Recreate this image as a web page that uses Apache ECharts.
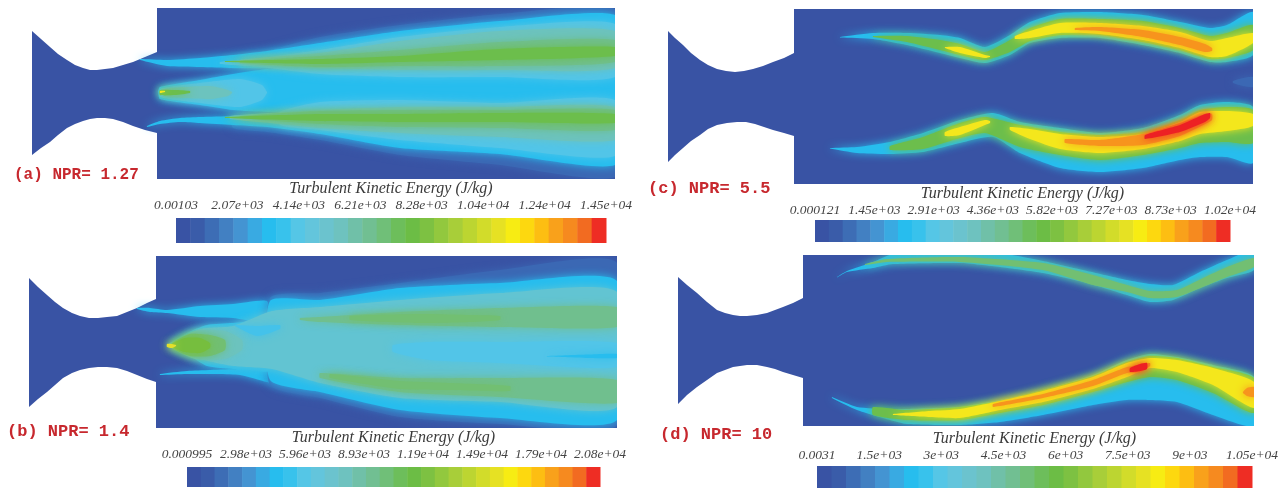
<!DOCTYPE html>
<html><head><meta charset="utf-8">
<style>html,body{margin:0;padding:0;background:#fff}#c{width:1282px;height:490px;filter:blur(0.6px)}</style>
<script src="https://cdn.jsdelivr.net/npm/echarts@6/dist/echarts.min.js"></script>
</head><body><div id="c"></div>
<script>
// colour levels of the contour scale
const BG='#3953A4',MID='#3B68B4',CY='#27BDEE',LI='#52C5E8',BO='#62C4D2',TE='#6CC3BE',PG='#70BF8E',GS='#72BF72',GR='#6CBE4C',LM='#A8CE39',YE='#F4E71C',OR='#F7941D',RE='#ED2024';
const barColors=['#3953A4','#3A5CA9','#3D6DB5','#4280C2','#4494D2','#39AAE2','#27BDEE','#38C2EC','#55C6E6','#63C5DC','#6BC3CE','#6EC2BF','#70C0A8','#71BF92','#70BF78','#6DBE5B','#6CBD45','#7DC142','#92C83E','#A8CE39','#BCD531','#D2DC2A','#E6E123','#F7EC13','#FDD80F','#FDBE12','#F9A11B','#F68A1F','#F26B21','#EE2D24'];
const axisTitle='Turbulent Kinetic Energy (J/kg)';
const ticksA=['0.00103','2.07e+03','4.14e+03','6.21e+03','8.28e+03','1.04e+04','1.24e+04','1.45e+04'];
const ticksB=['0.000995','2.98e+03','5.96e+03','8.93e+03','1.19e+04','1.49e+04','1.79e+04','2.08e+04'];
const ticksC=['0.000121','1.45e+03','2.91e+03','4.36e+03','5.82e+03','7.27e+03','8.73e+03','1.02e+04'];
const ticksD=['0.0031','1.5e+03','3e+03','4.5e+03','6e+03','7.5e+03','9e+03','1.05e+04'];
// nozzle walls [x,y]
const wallTopA=[[32,31],[41,39],[50,47],[58,54],[67,60],[75,65],[83,68],[90,70],[97,70],[105,69],[113,68],[123,65],[133,62],[145,57],[157,52]];
const wallBotA=[[32,155],[41,148],[50,142],[58,135],[67,128],[75,124],[83,121],[90,119],[97,118],[105,118],[113,119],[123,122],[133,126],[145,130],[157,133]];
const wallTopB=[[29,278],[38,287],[47,295],[55,302],[63,308],[72,313],[80,316],[89,318],[98,318],[107,317],[117,316],[127,312],[137,308],[147,303],[156,299]];
const wallBotB=[[29,407],[38,399],[47,392],[55,385],[63,378],[72,373],[80,370],[89,368],[98,367],[107,367],[117,368],[127,371],[137,375],[147,379],[156,382]];
const wallTopC=[[668,31],[675,38],[683,45],[691,53],[700,60],[708,65],[717,69],[726,71],[735,72],[744,71],[753,69],[763,66],[773,62],[784,58],[794,53]];
const wallBotC=[[668,162],[675,155],[683,148],[691,141],[700,135],[708,129],[717,125],[727,123],[737,122],[746,122],[755,124],[764,127],[773,130],[784,133],[794,136]];
const wallTopD=[[678,277],[687,285],[697,293],[707,302],[717,310],[725,313],[733,315],[740,316],[747,316],[757,315],[767,313],[775,310],[783,307],[793,303],[803,298]];
const wallBotD=[[678,404],[687,395],[697,387],[707,380],[717,373],[725,370],[733,367],[740,366],[747,365],[757,365],[767,367],[775,369],[783,372],[793,375],[803,378]];
// contour bands: colour, then rows [x, upper edge y, lower edge y]
const layersA=[
 [MID,[[230,58,68],[270,50,69],[320,37,70],[400,25,70],[500,14,70],[615,9,70]]],
 [MID,[[233,116,128],[267,115,132],[320,113,140],[400,110,155],[500,110,165],[615,110,177]]],
 [CY,[[140,59,60],[167,60,66],[200,58,67],[233,55,68],[267,51,68],[320,43,70],[400,31,70],[500,21,70],[615,15,70]]],
 [CY,[[147,126,127],[160,121,124],[180,118,122],[200,117,123],[233,116,125],[267,114,127],[320,112,134],[400,108,148],[500,108,154],[615,108,165]]],
 [CY,[[158,91,92],[160,87,99],[200,80,105],[233,74,110],[267,69,112],[290,68,112],[615,68,112]]],
 [LI,[[220,62,64],[260,58,67],[320,50,74],[400,37,77],[500,27,77],[615,24,77]]],
 [LI,[[280,112,125],[320,102,130],[400,100,140],[500,103,148],[615,100,156]]],
 [TE,[[240,60,64],[320,53,68],[400,41,70],[500,31,70],[615,31,68]]],
 [TE,[[230,116,119],[270,113,123],[320,110,128],[400,107,133],[500,107,137],[615,107,140]]],
 [PG,[[240,61,63],[320,56,67],[400,50,66],[500,42,66],[615,40,62]]],
 [PG,[[240,116,118],[320,111,124],[400,110,127],[500,110,128],[615,110,130]]],
 [GR,[[225,61,62],[320,59,64],[400,56,62],[500,49,60],[615,47,56]]],
 [GR,[[225,117,118],[320,114,121],[400,114,122],[500,113,122],[615,114,123]]],
 [LI,[[160,89,97],[200,83,103],[240,79,107],[262,85,100],[267,92,93]]],
 [TE,[[165,89,96],[210,86,99],[228,90,96],[232,92,93]]],
 [GR,[[160,90,95],[175,90,95],[190,91,93]]],
 [YE,[[160,91,93],[165,91,92]]]
];
const layersB=[
 [CY,[[137,308,309],[150,308,312],[167,310,313],[200,306,317],[233,304,318],[267,301,322]]],
 [CY,[[160,374,375],[187,371,374],[240,369,375],[267,369,382],[320,369,392]]],
 [MID,[[270,298,385],[320,293,398],[400,283,417],[500,270,424],[617,263,425]]],
 [CY,[[270,301,380],[320,300,392],[400,288,410],[500,283,418],[617,281,420]]],
 [CY,[[167,345,346],[187,333,354],[207,325,366],[233,323,369],[272,322,370]]],
 [BO,[[175,343,348],[200,329,359],[233,326,366],[272,311,369],[320,307,383],[400,300,398],[500,293,402],[617,292,407]]],
 ['#44C2EA',[[235,325,326],[257,326,336],[280,325,329]]],
 [LI,[[393,345,352],[430,342,360],[500,342,363],[617,343,367]]],
 [CY,[[547,356,356.5],[590,354.5,358],[617,354,358]]],
 [PG,[[300,318,320],[320,317,322],[400,312,325],[500,308,327],[617,307,327]]],
 [PG,[[320,373,378],[400,378,392],[500,378,397],[617,380,403]]],
 [GS,[[350,316,320],[420,314,323],[470,315,322],[500,316,320]]],
 [GS,[[330,374,378],[400,381,389],[450,383,390],[510,386,391]]],
 [TE,[[172,343,348],[195,331,359],[225,331,359],[242,340,350]]],
 [GS,[[172,343,348],[190,334,356],[210,335,356],[225,340,350]]],
 ['#76BE3E',[[172,344,347],[185,338,352],[200,338,353],[210,343,348]]],
 ['#E4E02B',[[167,344,347],[172,344,348],[176,345,346]]]
];
const layersC=[
 [MID,[[1233,81,83],[1243,78,86],[1253,77,87]]],
 [CY,[[840,37,37.5],[873,33,39],[907,33,45],[940,35,53],[960,38,58],[985,47,63],[1010,35,55],[1030,22,43],[1060,13,38],[1100,12,38],[1143,15,45],[1180,22,53],[1210,28,62],[1227,25,62],[1253,12,55]]],
 [CY,[[830,148,148.5],[857,147,153],[890,142,154],[923,133,152],[960,120,143],[993,113,137],[1020,122,153],[1060,128,168],[1100,133,172],[1143,128,168],[1180,115,160],[1200,105,157],[1227,102,157],[1253,107,163]]],
 [GR,[[873,36,37],[907,36,42],[940,40,50],[960,44,55],[985,52,60],[1010,40,52],[1030,28,41],[1060,19,35],[1100,19,35],[1143,21,42],[1180,28,50],[1210,36,59],[1227,33,58],[1253,25,50]]],
 [GR,[[890,146,150],[923,137,149],[960,123,138],[985,117,133],[1020,125,147],[1060,132,155],[1100,135,160],[1143,132,155],[1180,120,148],[1200,110,143],[1227,107,142],[1253,110,143]]],
 [YE,[[945,47,48],[960,47,53],[985,55,58],[990,56,57]]],
 [YE,[[1015,36,39],[1030,31,38],[1060,23,33],[1100,23,34],[1143,26,40],[1180,32,48],[1210,41,57],[1227,38,56],[1253,33,43]]],
 [YE,[[945,132,136],[960,127,135],[985,120,125],[990,121,123]]],
 [YE,[[1010,127,130],[1030,129,139],[1060,134,149],[1100,137,153],[1143,134,149],[1180,122,141],[1200,112,134],[1227,111,131],[1253,114,126]]],
 [OR,[[1075,28,30],[1100,27,31],[1143,30,37],[1180,37,45],[1205,44,52],[1212,48,51]]],
 [OR,[[1065,139,143],[1100,140,146],[1143,134,145],[1180,123,136],[1205,114,124],[1212,114,120]]],
 [RE,[[1145,135,139],[1180,125,132],[1205,114,122],[1210,113,118]]]
];
const layersD=[
 [CY,[[837,277,277.5],[847,271,272],[873,262,268],[893,254,264],[960,250,263],[1000,253,267],[1043,261,273],[1087,271,283],[1127,280,295],[1150,284,302],[1173,285,300],[1200,272,288],[1227,260,278],[1254,250,270]]],
 [CY,[[832,397,398],[857,407,410],[890,409,420],[907,409,424],[960,407,425],[1000,400,422],[1043,390,415],[1093,375,405],[1127,360,400],[1150,354,400],[1177,357,402],[1213,365,415],[1254,377,426]]],
 [GS,[[865,264,265],[887,259,262],[960,257,262],[1043,263,270],[1093,275,285],[1127,285,292],[1150,291,298],[1177,290,297],[1203,278,287],[1227,267,277],[1254,258,267]]],
 [GR,[[873,407,415],[907,410,420],[960,407,420],[1000,401,413],[1043,390,405],[1093,376,392],[1127,362,382],[1150,356,377],[1177,358,380],[1213,367,393],[1254,378,413]]],
 [YE,[[893,414,415],[930,411,417],[960,409,418],[1000,401,410],[1043,391,402],[1093,377,389],[1127,363,377],[1150,358,368],[1177,360,372],[1213,368,385],[1254,382,408]]],
 [OR,[[993,404,407],[1043,394,398],[1093,380,386],[1127,367,373],[1140,365,372],[1150,363,366]]],
 [OR,[[1243,392,393],[1247,388,396],[1254,387,397]]],
 [RE,[[1130,368,372],[1140,364,371],[1147,363,369]]]
];
const boundsA=[32,615,8,179], boundsB=[29,617,256,428], boundsC=[668,1253,9,184], boundsD=[678,1254,255,426];
const barA=[176,606,218,243], barB=[187,600,467,487], barC=[815,1230,220,242], barD=[817,1252,466,488];
const panelLabels=[['(a) NPR= 1.27',14,167,16],['(b) NPR= 1.4',7,423,17],['(c) NPR= 5.5',648,180,17],['(d) NPR= 10',660,426,17]];
const titleGaps=[20,18,16,16], labelMargins=[6,6,3,4];

const panels=[[boundsA,wallTopA,wallBotA,layersA,barA,ticksA],[boundsB,wallTopB,wallBotB,layersB,barB,ticksB],[boundsC,wallTopC,wallBotC,layersC,barC,ticksC],[boundsD,wallTopD,wallBotD,layersD,barD,ticksD]];
const grid=[],xAxis=[],yAxis=[],series=[];
panels.forEach(([b,wt,wb,layers,bar,ticks],pi)=>{
  const gi=grid.length, chamberX=wt[wt.length-1][0];
  grid.push({left:b[0],top:b[2],width:b[1]-b[0],height:b[3]-b[2]});
  xAxis.push({gridIndex:gi,type:'value',min:b[0],max:b[1],show:false});
  yAxis.push({gridIndex:gi,type:'value',min:b[2],max:b[3],inverse:true,show:false});
  const outline=[...wt,[chamberX,b[2]],[b[1],b[2]],[b[1],b[3]],[chamberX,b[3]],...wb.slice().reverse()];
  series.push({type:'custom',xAxisIndex:gi,yAxisIndex:gi,clip:true,silent:true,animation:false,
    data:[[0,0]],
    renderItem:(p,api)=>({type:'polygon',shape:{points:outline.map(q=>api.coord(q))},style:{fill:BG}})});
  series.push({type:'custom',xAxisIndex:gi,yAxisIndex:gi,clip:true,silent:true,animation:false,
    data:layers.map((l,i)=>[i,i]),
    renderItem:(p,api)=>{
      const [color,rows]=layers[p.dataIndex];
      const pts=[...rows.map(r=>api.coord([r[0],r[1]])),...rows.slice().reverse().map(r=>api.coord([r[0],r[2]]))];
      return {type:'polygon',shape:{points:pts,smooth:0.2},style:{fill:color,shadowBlur:8,shadowColor:color}};
    }});
  const g2=grid.length;
  grid.push({left:bar[0],top:bar[2],width:bar[1]-bar[0],height:bar[3]-bar[2]});
  xAxis.push({gridIndex:g2,type:'value',position:'top',min:0,max:7,interval:1,
    axisLine:{show:false},axisTick:{show:false},splitLine:{show:false},
    name:axisTitle,nameLocation:'middle',nameGap:titleGaps[pi],
    nameTextStyle:{fontFamily:'Liberation Serif',fontStyle:'italic',fontSize:16,color:'#3a3a3a'},
    axisLabel:{margin:labelMargins[pi],fontFamily:'Liberation Serif',fontStyle:'italic',fontSize:13.5,color:'#444',formatter:v=>ticks[v]}});
  yAxis.push({gridIndex:g2,type:'value',min:0,max:1,show:false});
  const N=barColors.length;
  series.push({type:'custom',xAxisIndex:g2,yAxisIndex:g2,silent:true,animation:false,
    data:barColors.map((c,i)=>[i,1]),
    renderItem:(p,api)=>{
      const i=p.dataIndex,a=api.coord([i*7/N,1]),d=api.coord([(i+1)*7/N,0]);
      return {type:'rect',shape:{x:a[0],y:a[1],width:d[0]-a[0]+0.5,height:d[1]-a[1]},style:{fill:barColors[i]}};
    }});
});
const chart=echarts.init(document.getElementById('c'),null,{renderer:'canvas'});
chart.setOption({animation:false,backgroundColor:'#fff',
  title:panelLabels.map(l=>({text:l[0],left:l[1],top:l[2],padding:0,textStyle:{fontFamily:'Liberation Mono',fontWeight:'bold',fontSize:l[3],color:'#C7282E'}})),
  grid,xAxis,yAxis,series});
</script></body></html>
